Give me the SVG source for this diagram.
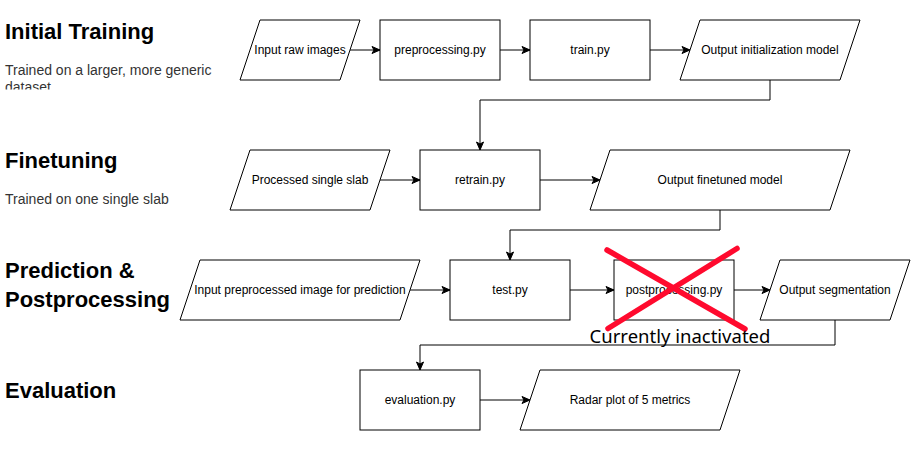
<svg xmlns="http://www.w3.org/2000/svg" width="911" height="451" viewBox="0 0 911 451">
<style>
.shape{fill:#fff;stroke:#000;stroke-width:1}
.lbl{font-family:"Liberation Sans",Arial,sans-serif;font-size:12px;fill:#000;text-anchor:middle}
.title{font-family:"Liberation Sans",Arial,sans-serif;font-size:22px;font-weight:bold;fill:#000}
.sub{font-family:"Liberation Sans",Arial,sans-serif;font-size:14px;fill:#333}
.conn{fill:none;stroke:#000;stroke-width:1}
.cross{stroke:#ff0a2e;stroke-width:5.5;stroke-linecap:round}
.note{font-family:"Noto Sans","Open Sans",sans-serif;font-size:18.5px;fill:#000;text-anchor:middle}
</style>
<defs>
<marker id="arr" markerUnits="userSpaceOnUse" markerWidth="10" markerHeight="10" viewBox="0 0 10 10" refX="9.5" refY="5" orient="auto">
<path d="M1.5,1.5 L9.5,5 L1.5,8.5 L3.5,5 Z" fill="#000" stroke="#000" stroke-width="1"/>
</marker>
<clipPath id="clipSub"><rect x="0" y="55" width="240" height="34.5"/></clipPath>
</defs>
<rect x="0" y="0" width="911" height="451" fill="#fff"/>

<g id="titles">
<text class="title" x="5" y="39">Initial Training</text>
<g clip-path="url(#clipSub)">
<text class="sub" x="5" y="75">Trained on a larger, more generic</text>
<text class="sub" x="5" y="92">dataset</text>
</g>
<text class="title" x="5" y="168">Finetuning</text>
<text class="sub" x="5" y="204">Trained on one single slab</text>
<text class="title" x="5" y="278">Prediction &amp;</text>
<text class="title" x="5" y="307">Postprocessing</text>
<text class="title" x="5" y="398">Evaluation</text>
</g>

<g id="connectors">
<line class="conn" x1="350" y1="50" x2="380" y2="50" marker-end="url(#arr)"/>
<line class="conn" x1="500" y1="50" x2="530" y2="50" marker-end="url(#arr)"/>
<line class="conn" x1="650" y1="50" x2="690" y2="50" marker-end="url(#arr)"/>
<polyline class="conn" points="770,80 770,100 480,100 480,150" marker-end="url(#arr)"/>
<line class="conn" x1="380" y1="180" x2="420" y2="180" marker-end="url(#arr)"/>
<line class="conn" x1="540" y1="180" x2="600" y2="180" marker-end="url(#arr)"/>
<polyline class="conn" points="720,210 720,230 510,230 510,260" marker-end="url(#arr)"/>
<line class="conn" x1="410" y1="290" x2="450" y2="290" marker-end="url(#arr)"/>
<line class="conn" x1="570" y1="290" x2="614" y2="290" marker-end="url(#arr)"/>
<line class="conn" x1="734" y1="290" x2="770" y2="290" marker-end="url(#arr)"/>
<polyline class="conn" points="835,320 835,345 420,345 420,370" marker-end="url(#arr)"/>
<line class="conn" x1="480" y1="400" x2="530" y2="400" marker-end="url(#arr)"/>
</g>

<g id="n-input-raw">
<polygon class="shape" points="260,20 360,20 340,80 240,80"/>
<text class="lbl" x="300" y="54">Input raw images</text>
</g>
<g id="n-preprocessing">
<rect class="shape" x="380" y="20" width="120" height="60"/>
<text class="lbl" x="440" y="54">preprocessing.py</text>
</g>
<g id="n-train">
<rect class="shape" x="530" y="20" width="120" height="60"/>
<text class="lbl" x="590" y="54">train.py</text>
</g>
<g id="n-output-init">
<polygon class="shape" points="700,20 860,20 840,80 680,80"/>
<text class="lbl" x="770" y="54">Output initialization model</text>
</g>

<g id="n-processed-slab">
<polygon class="shape" points="250,150 390,150 370,210 230,210"/>
<text class="lbl" x="310" y="184">Processed single slab</text>
</g>
<g id="n-retrain">
<rect class="shape" x="420" y="150" width="120" height="60"/>
<text class="lbl" x="480" y="184">retrain.py</text>
</g>
<g id="n-output-finetuned">
<polygon class="shape" points="610,150 850,150 830,210 590,210"/>
<text class="lbl" x="720" y="184">Output finetuned model</text>
</g>

<g id="n-input-pred">
<polygon class="shape" points="200,260 420,260 400,320 180,320"/>
<text class="lbl" x="300" y="294">Input preprocessed image for prediction</text>
</g>
<g id="n-test">
<rect class="shape" x="450" y="260" width="120" height="60"/>
<text class="lbl" x="510" y="294">test.py</text>
</g>
<g id="n-postprocessing">
<rect class="shape" x="614" y="260" width="120" height="60"/>
<text class="lbl" x="674" y="294">postprocessing.py</text>
</g>
<g id="n-output-seg">
<polygon class="shape" points="780,260 910,260 890,320 760,320"/>
<text class="lbl" x="835" y="294">Output segmentation</text>
</g>

<g id="n-evaluation">
<rect class="shape" x="360" y="370" width="120" height="60"/>
<text class="lbl" x="420" y="404">evaluation.py</text>
</g>
<g id="n-radar">
<polygon class="shape" points="540,370 740,370 720,430 520,430"/>
<text class="lbl" x="630" y="404">Radar plot of 5 metrics</text>
</g>

<g id="inactive-mark">
<line class="cross" x1="607" y1="250" x2="745" y2="329"/>
<line class="cross" x1="737" y1="248.5" x2="608" y2="328.5"/>
<text class="note" x="680" y="343">Currently inactivated</text>
</g>
</svg>
